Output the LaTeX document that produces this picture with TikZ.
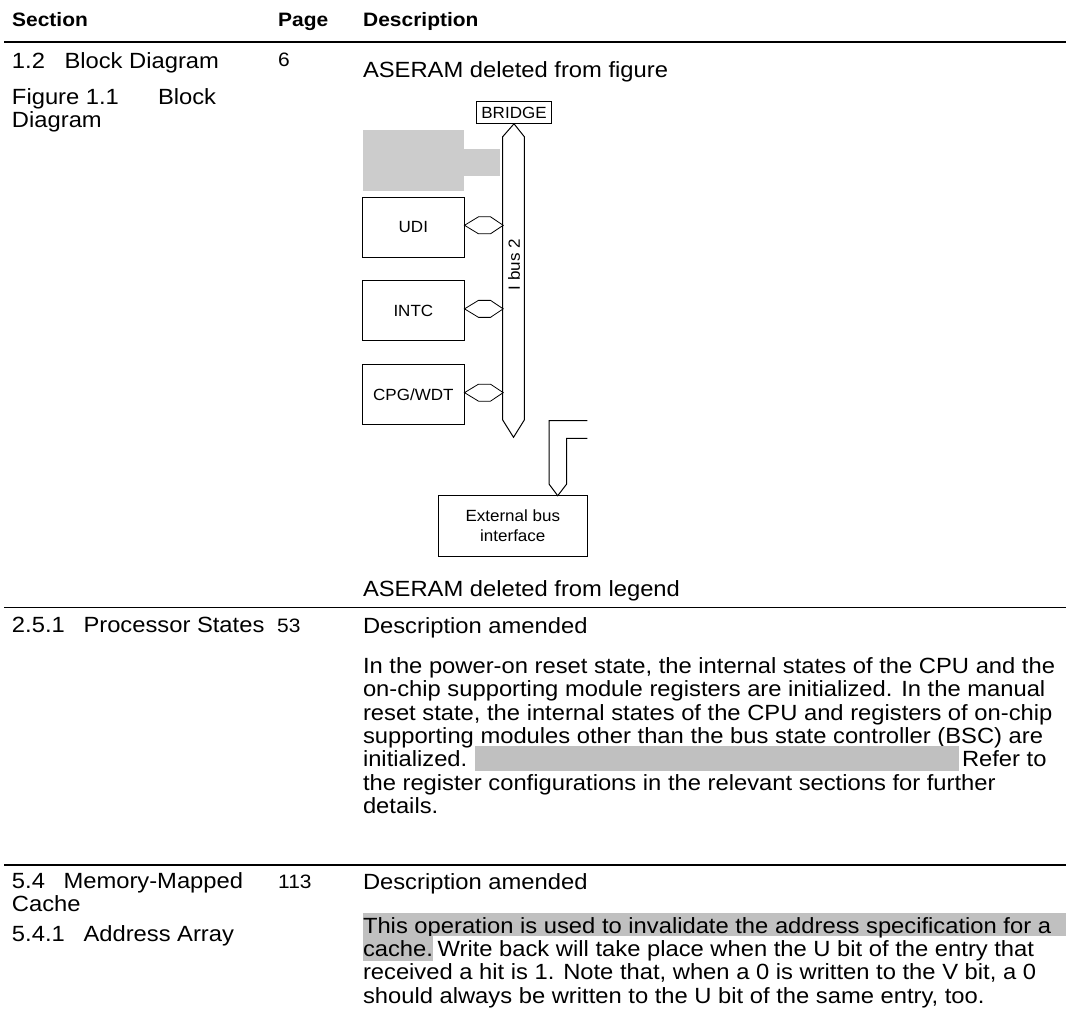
\documentclass[tikz,border=0pt]{standalone}
\usepackage{fontspec}
\setmainfont{Liberation Sans}[FakeStretch=1.08]
\newfontfamily\diagfont{Liberation Sans}[FakeStretch=1.05]
\newcommand\bodysize{\fontsize{22}{23.35}\selectfont}
\newcommand\hdsize{\fontsize{19.4}{21}\selectfont}
\newcommand\dgsize{\diagfont\fontsize{16.2}{20}\selectfont}
\definecolor{hl}{HTML}{C0C0C0}
\definecolor{blockgray}{HTML}{CCCCCC}
\begin{document}
\begin{tikzpicture}[x=1pt,y=-1pt,
  txt/.style={anchor=base west, inner sep=0pt, outer sep=0pt, font=\bodysize},
  hd/.style={anchor=base west, inner sep=0pt, font=\hdsize\bfseries},
  pg/.style={anchor=base west, inner sep=0pt, font=\hdsize},
  blk/.style={draw, line width=1pt, minimum width=101.3pt, minimum height=60pt, inner sep=0pt, font=\dgsize},
  hexc/.style={draw, line width=0.8pt},
  thickrule/.style={line width=2.7pt},
  thinrule/.style={line width=1.3pt}]
\useasboundingbox (0,0) rectangle (1071,1030);
% header
\node[hd] (hsec) at (12,27) {Section};
\node[hd] (hpage) at (278,27) {Page};
\node[hd] (hdesc) at (363,27) {Description};
\draw[thickrule] (4,42) -- (1066,42);
% row 1
\node[txt] (n12) at (12,69) {1.2};
\node[txt] (t12) at (64.5,69) {Block Diagram};
\node[pg] (p6) at (278,67) {6};
\node[txt] (f11) at (12,105) {Figure 1.1};
\node[txt] (f11b) at (158,105) {Block};
\node[txt] (f11c) at (12,127.5) {Diagram};
\node[txt] (d1) at (363,78) {ASERAM deleted from figure};
% diagram
\node[draw, line width=1pt, minimum width=75.7pt, minimum height=21.6pt, inner sep=0pt, font=\dgsize] (bridge) at (514,112.5) {BRIDGE};
\fill[blockgray] (362.7,130) rectangle (464,190.7);
\fill[blockgray] (464,149.3) rectangle (500,176);
\draw[line width=1pt] (bridge.south) -- (524.3,136.7) -- (524.3,420) -- (513.5,437.3) -- (502.7,420) -- (502.7,136.7) -- cycle;
\node[rotate=90, inner sep=0pt, font=\dgsize] (ibus) at (514,264.5) {I bus 2};
\node[blk] (udi) at (413.35,227.3) {UDI};
\node[blk] (intc) at (413.35,310.85) {INTC};
\node[blk] (cpg) at (413.35,394.65) {CPG/WDT};
\foreach \b in {udi,intc,cpg}{
  \draw[hexc] ([yshift=2pt]\b.east) -- ++(14,-8.5) -- ++(12,0) -- ++(12.7,8.5) -- ++(-12.7,8.5) -- ++(-12,0) -- cycle;
}
\node[draw, line width=1pt, minimum width=149pt, minimum height=60.3pt, inner sep=0pt, align=center, font=\dgsize] (ext) at (512.8,525.85) {External bus\\interface};
\coordinate (tip) at (557.7,495.7);
\coordinate (o1) at (587.3,420.7);
\coordinate (i1) at (587.3,438.3);
\draw[line width=1pt] (o1) -- (549,420.7) -- (549,484) -- (tip) -- (566.7,484) -- (566.7,438.3) -- (i1);
\node[txt] (d1b) at (363,596) {ASERAM deleted from legend};
\draw[thinrule] (4,607.7) -- (1066,607.7);
% row 2
\node[txt] (n251) at (12,632) {2.5.1};
\node[txt] (t251) at (83.5,632) {Processor States};
\node[pg] (p53) at (277,632) {53};
\node[txt] (d2) at (363,633) {Description amended};
\node[txt] (r2l1) at (363,673.5) {In the power-on reset state, the internal states of the CPU and the};
\node[txt] (r2l2) at (363,696.85) {on-chip supporting module registers are initialized. In the manual};
\node[txt] (r2l3) at (363,720.2) {reset state, the internal states of the CPU and registers of on-chip};
\node[txt] (r2l4) at (363,743.55) {supporting modules other than the bus state controller (BSC) are};
\fill[hl] (475,746.4) rectangle (959,771.4);
\node[txt] (r2l5) at (363,766.9) {initialized.};
\node[txt] (r2l5b) at (962,766.9) {Refer to};
\node[txt] (r2l6) at (363,790.25) {the register configurations in the relevant sections for further};
\node[txt] (r2l7) at (363,813.6) {details.};
\draw[thinrule] (4,865) -- (1066,865);
% row 3
\node[txt] (n54) at (12,888) {5.4};
\node[txt] (t54) at (63.5,888) {Memory-Mapped};
\node[txt] (t54b) at (12,911.4) {Cache};
\node[pg] (p113) at (278,888) {113};
\node[txt] (n541) at (12,941) {5.4.1};
\node[txt] (t541) at (83.5,941) {Address Array};
\node[txt] (d3) at (363,889) {Description amended};
\fill[hl] (362.5,912.5) rectangle (1066,935.85);
\node[txt] (r3l1) at (363,933) {This operation is used to invalidate the address specification for a};
\node[txt, fill=hl, text height=20.5pt, text depth=4.5pt] (r3l2a) at (363,956.35) {cache.\hspace{2pt}};
\node[txt] (r3l2b) at ([xshift=4.6pt]r3l2a.base east) {Write back will take place when the U bit of the entry that};
\node[txt] (r3l3) at (363,979.7) {received a hit is 1. Note that, when a 0 is written to the V bit, a 0};
\node[txt] (r3l4) at (363,1003.05) {should always be written to the U bit of the same entry, too.};
\end{tikzpicture}
\end{document}
